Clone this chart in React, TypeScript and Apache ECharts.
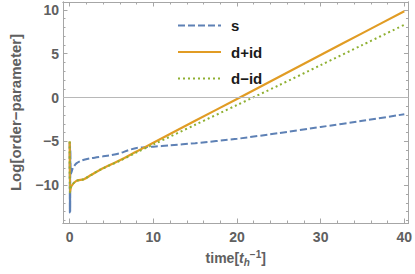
import React, { useEffect, useRef } from "react";
import * as echarts from "echarts";

const xMajor = [0, 10, 20, 30, 40];
const xMinor = [2, 4, 6, 8, 12, 14, 16, 18, 22, 24, 26, 28, 32, 34, 36, 38];
const yMajor = [-10, -5, 0, 5, 10];
const yMinor = [-14, -13, -12, -11, -9, -8, -7, -6, -4, -3, -2, -1, 1, 2, 3, 4, 6, 7, 8, 9];

const sTime = [0, 0.02, 0.04, 0.06, 0.08, 0.15, 0.4, 0.8, 1.5, 2.6, 4, 5, 6, 7, 8, 9, 10, 12, 15, 20, 25, 30, 35, 40];
const sValues = [-5.1, -13.1, -5.3, -13.0, -6.0, -8.7, -8.0, -7.5, -7.15, -6.9, -6.7, -6.55, -6.35, -6.0, -5.75, -5.65, -5.6, -5.45, -5.2, -4.7, -4.05, -3.35, -2.65, -1.9];

const dTime = [0, 0.03, 0.2, 0.8, 1.7, 2.6, 3.7, 6, 8, 10, 15, 20, 25, 30, 35, 40];
const dPlusValues = [-5.0, -10.8, -10.1, -9.5, -9.3, -8.8, -8.2, -7.15, -6.15, -5.15, -2.65, -0.15, 2.35, 4.85, 7.35, 9.85];
const dMinusValues = [-5.0, -10.8, -10.1, -9.5, -9.3, -8.8, -8.2, -7.2, -6.25, -5.35, -3.1, -0.85, 1.4, 3.7, 6.0, 8.3];

const seriesNames = ["s", "d+id", "d\u2212id"];
const colors = ["#5E81B5", "#E19C24", "#8FB032"];

const X_MIN = -0.8;
const X_MAX = 40.5;
const Y_MIN = -14.3;
const Y_MAX = 10.9;

const FRAME = "#a6a6a6";
const LABEL = "#606060";
const FONT = "Liberation Sans, Arial, sans-serif";

function pair(t: number[], v: number[]) {
  return t.map((x, i) => [x, v[i]]);
}

function xAxisDef(position: "top" | "bottom", ticks: number[], len: number, labels: boolean, extra: any = {}) {
  return {
    type: "value",
    position,
    min: X_MIN,
    max: X_MAX,
    axisLine: { show: true, onZero: false, lineStyle: { color: FRAME, width: 1 } },
    axisTick: { show: true, inside: true, length: len, customValues: ticks, lineStyle: { color: FRAME, width: 1 } },
    axisLabel: labels
      ? { show: true, customValues: ticks, color: LABEL, fontSize: 14, fontWeight: "bold", fontFamily: FONT, margin: 7 }
      : { show: false },
    splitLine: { show: false },
    ...extra,
  };
}

function yAxisDef(position: "left" | "right", ticks: number[], len: number, labels: boolean, extra: any = {}) {
  return {
    type: "value",
    position,
    min: Y_MIN,
    max: Y_MAX,
    axisLine: { show: true, onZero: false, lineStyle: { color: FRAME, width: 1 } },
    axisTick: { show: true, inside: true, length: len, customValues: ticks, lineStyle: { color: FRAME, width: 1 } },
    axisLabel: labels
      ? { show: true, customValues: ticks, color: LABEL, fontSize: 14, fontWeight: "bold", fontFamily: FONT, margin: 4,
          formatter: (v: number) => (v < 0 ? "\u2212" + Math.abs(v) : String(v)) }
      : { show: false },
    splitLine: { show: false },
    ...extra,
  };
}

export default function App() {
  const ref = useRef<HTMLDivElement>(null);
  useEffect(() => {
    if (!ref.current) return;
    const chart = echarts.init(ref.current, null, { renderer: "svg" });
    const lineBase = { type: "line", showSymbol: false, symbol: "none", xAxisIndex: 0, yAxisIndex: 0, smooth: 0.3 };
    chart.setOption({
      animation: false,
      backgroundColor: "#ffffff",
      grid: { left: 56, right: 3, top: 2, bottom: 51, containLabel: false },
      legend: {
        orient: "vertical",
        left: 172,
        top: 13,
        itemWidth: 43,
        itemHeight: 14,
        itemGap: 11.5,
        data: seriesNames,
        itemStyle: { opacity: 0 },
        textStyle: { color: "#1a1a1a", fontSize: 15, fontWeight: "bold", fontFamily: FONT, padding: [0, 0, 0, 5] },
      },
      xAxis: [
        xAxisDef("bottom", xMajor, 4.5, true, {
          name: "{a|time[}{i|t}{sub|h}{sup|\u22121}{a|]}",
          nameLocation: "middle",
          nameGap: 26,
          nameTextStyle: {
            rich: {
              a: { fontSize: 14, fontWeight: "bold", color: LABEL, fontFamily: FONT },
              i: { fontSize: 14, fontWeight: "bold", color: LABEL, fontFamily: FONT, fontStyle: "italic" },
              sub: { fontSize: 10, fontWeight: "bold", color: LABEL, fontFamily: FONT, fontStyle: "italic", padding: [8, 0, 0, 0] },
              sup: { fontSize: 10, fontWeight: "bold", color: LABEL, fontFamily: FONT, padding: [0, 0, 8, 0] },
            },
          },
        }),
        xAxisDef("bottom", xMinor, 2.5, false),
        xAxisDef("top", xMajor, 4.5, false),
        xAxisDef("top", xMinor, 2.5, false),
      ],
      yAxis: [
        yAxisDef("left", yMajor, 4.5, true, {
          name: "Log[order\u2212parameter]",
          nameLocation: "middle",
          nameGap: 40,
          nameTextStyle: { color: LABEL, fontSize: 15, fontWeight: "bold", fontFamily: FONT },
        }),
        yAxisDef("left", yMinor, 2.5, false),
        yAxisDef("right", yMajor, 4.5, false),
        yAxisDef("right", yMinor, 2.5, false),
      ],
      series: [
        {
          ...lineBase,
          name: seriesNames[0],
          data: pair(sTime, sValues),
          smooth: 0.2,
          lineStyle: { color: colors[0], width: 2, type: [7, 3] },
          itemStyle: { color: colors[0] },
          markLine: {
            silent: true,
            symbol: "none",
            label: { show: false },
            lineStyle: { color: "#b8b8b8", width: 1, type: "solid" },
            data: [{ yAxis: 0 }],
          },
        },
        {
          ...lineBase,
          name: seriesNames[1],
          data: pair(dTime, dPlusValues),
          lineStyle: { color: colors[1], width: 2.2, type: "solid" },
          itemStyle: { color: colors[1] },
        },
        {
          ...lineBase,
          name: seriesNames[2],
          data: pair(dTime, dMinusValues),
          lineStyle: { color: colors[2], width: 2, type: [2, 3] },
          itemStyle: { color: colors[2] },
        },
      ],
    });
    return () => chart.dispose();
  }, []);
  return <div ref={ref} style={{ width: 415, height: 274, position: "absolute", left: 0, top: 0 }} />;
}
